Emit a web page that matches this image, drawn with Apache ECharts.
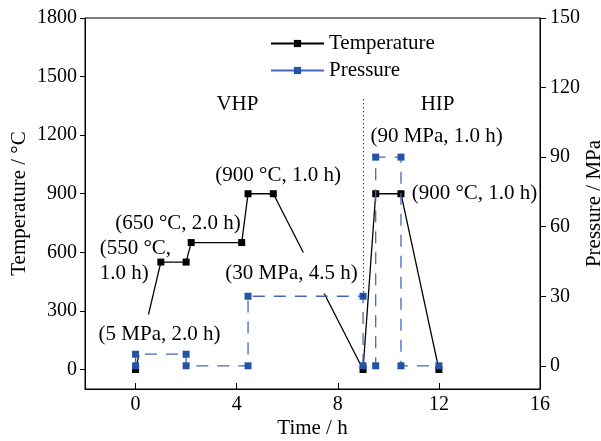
<!DOCTYPE html>
<html>
<head>
<meta charset="utf-8">
<script src="https://cdn.jsdelivr.net/npm/echarts@6/dist/echarts.min.js"></script>
<style>
    html, body { margin: 0; padding: 0; background: #fff; }
    #chart { width: 601px; height: 441px; }
</style>
</head>
<body>
<div id="chart"></div>
<script>
    'use strict';
    // temperature profile (h, °C)
    var tempTime = [0, 1, 2, 2.2, 4.2, 4.45, 5.45, 9, 9.5, 10.5, 12];
    var tempValue = [0, 550, 550, 650, 650, 900, 900, 0, 900, 900, 0];
    // pressure profile (h, MPa)
    var presTime = [0, 0, 2, 2, 4.45, 4.45, 9, 9, 9.5, 9.5, 10.5, 10.5, 12];
    var presValue = [0, 5, 5, 0, 0, 30, 30, 0, 0, 90, 90, 0, 0];

    var timeTicks = [0, 4, 8, 12, 16];
    var tempTicks = [0, 300, 600, 900, 1200, 1500, 1800];
    var presTicks = [0, 30, 60, 90, 120, 150];

    // annotations: text, [time, °C] anchor
    var notes = [
        { text: 'VHP', at: [4.03, 1355] },
        { text: 'HIP', at: [11.95, 1355] },
        { text: '(900 °C, 1.0 h)', at: [5.64, 991] },
        { text: '(650 °C, 2.0 h)', at: [1.68, 750] },
        { text: '(550 °C,\n1.0 h)', at: [-1.42, 558], left: true },
        { text: '(5 MPa, 2.0 h)', at: [0.95, 177], mask: true },
        { text: '(30 MPa, 4.5 h)', at: [6.17, 494], mask: true },
        { text: '(90 MPa, 1.0 h)', at: [11.91, 1191] },
        { text: '(900 °C, 1.0 h)', at: [13.41, 899] }
    ];

    var FONT = 'Liberation Serif';
    var BLUE = '#2452a4';

    function pairs(xs, ys) {
        var out = [];
        for (var i = 0; i < xs.length; i++) {
            out.push([xs[i], ys[i]]);
        }
        return out;
    }

    function plain(v) {
        return String(v);
    }

    var myChart = echarts.init(document.getElementById('chart'), null, { renderer: 'canvas' });

    var textStyle = { fontFamily: FONT, fontSize: 21, color: '#000' };
    var tickStyle = { fontFamily: FONT, fontSize: 20, color: '#000' };

    var option = {
        animation: false,
        backgroundColor: '#fff',
        textStyle: textStyle,
        grid: {
            left: 85, right: 61, top: 18, bottom: 52,
            outerBoundsMode: 'none',
            containLabel: false,
            show: true, borderColor: '#000', borderWidth: 1
        },
        legend: {
            orient: 'vertical',
            left: 270,
            top: 33,
            padding: 0,
            itemWidth: 53,
            itemHeight: 9,
            itemGap: 6,
            textStyle: textStyle,
            data: [
                { name: 'Temperature' },
                { name: 'Pressure', lineStyle: { type: 'solid' } }
            ]
        },
        xAxis: {
            type: 'value',
            min: -2, max: 16,
            name: 'Time / h',
            nameLocation: 'middle',
            nameGap: 29,
            nameMoveOverlap: false,
            nameTextStyle: textStyle,
            axisLine: { onZero: false, lineStyle: { color: '#000', width: 1 } },
            axisTick: { inside: true, length: 6, customValues: timeTicks, lineStyle: { color: '#000' } },
            axisLabel: echarts.util.extend({ customValues: timeTicks, formatter: plain, margin: 6 }, tickStyle),
            splitLine: { show: false }
        },
        yAxis: [{
            type: 'value',
            min: -100, max: 1800,
            name: 'Temperature / °C',
            nameLocation: 'middle',
            nameGap: 55,
            nameMoveOverlap: false,
            nameTextStyle: textStyle,
            axisLine: { show: true, onZero: false, lineStyle: { color: '#000', width: 1 } },
            axisTick: { show: true, length: 5, customValues: tempTicks, lineStyle: { color: '#000' } },
            axisLabel: echarts.util.extend({ customValues: tempTicks, formatter: plain, margin: 8 }, tickStyle),
            splitLine: { show: false }
        }, {
            type: 'value',
            position: 'right',
            min: -10, max: 150,
            name: 'Pressure / MPa',
            nameLocation: 'middle',
            nameGap: 44,
            nameMoveOverlap: false,
            nameTextStyle: textStyle,
            axisLine: { show: true, onZero: false, lineStyle: { color: '#000', width: 1 } },
            axisTick: { show: true, length: 6, customValues: presTicks, lineStyle: { color: '#000' } },
            axisLabel: echarts.util.extend({ customValues: presTicks, formatter: plain, margin: 10 }, tickStyle),
            splitLine: { show: false }
        }],
        series: [{
            name: 'Temperature',
            type: 'line',
            yAxisIndex: 0,
            z: 2,
            data: pairs(tempTime, tempValue),
            symbol: 'rect',
            symbolSize: 7,
            itemStyle: { color: '#000' },
            lineStyle: { color: '#000', width: 1.3 }
        }, {
            name: 'Pressure',
            type: 'line',
            yAxisIndex: 1,
            z: 4,
            data: pairs(presTime, presValue),
            symbol: 'rect',
            symbolSize: 7,
            itemStyle: { color: BLUE },
            lineStyle: { color: '#4468b8', width: 1.3, type: [12, 9] },
            markLine: {
                silent: true,
                symbol: 'none',
                label: { show: false },
                lineStyle: { color: '#000', type: [1, 3], width: 1.2 },
                data: [[{ coord: [9, 30] }, { coord: [9, 115.5] }]]
            }
        }]
    };

    myChart.setOption(option);

    // place annotations through the chart's own scales
    var elements = [];
    for (var i = 0; i < notes.length; i++) {
        var n = notes[i];
        var p = myChart.convertToPixel({ xAxisIndex: 0, yAxisIndex: 0 }, n.at);
        var style = {
            text: n.text,
            fill: '#000',
            font: '21px "' + FONT + '"',
            align: n.left ? 'left' : 'center',
            verticalAlign: 'middle',
            lineHeight: 25
        };
        if (n.mask) {
            style.backgroundColor = '#fff';
            style.padding = [9, 2, 7, 2];
        }
        elements.push({ type: 'text', x: p[0], y: p[1], z: 3, silent: true, style: style });
    }
    myChart.setOption({ graphic: { elements: elements } });
</script>
</body>
</html>
